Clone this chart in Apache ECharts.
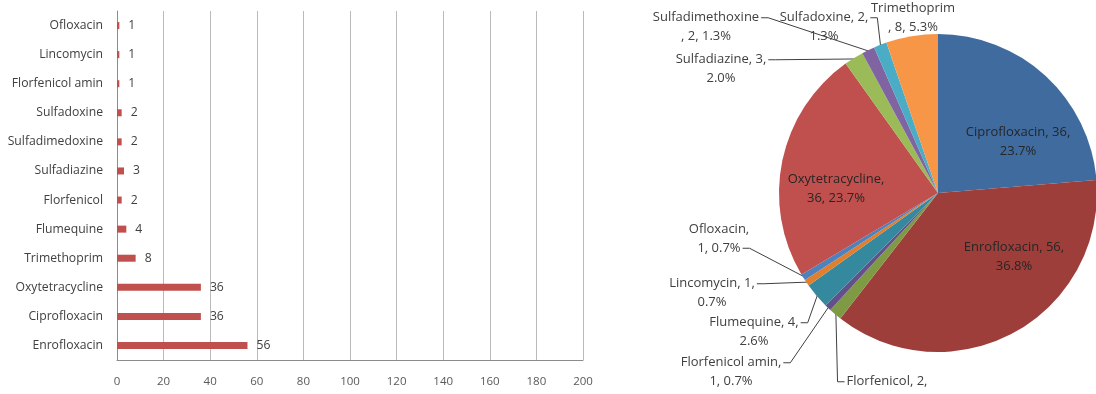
<!DOCTYPE html>
<html>
<head>
<meta charset="utf-8">
<script src="https://cdn.jsdelivr.net/npm/echarts@6/dist/echarts.min.js"></script>
<style>
  html, body { margin: 0; padding: 0; background: #ffffff; }
  #chart { width: 1096px; height: 394px; }
</style>
</head>
<body>
<div id="chart"></div>
<script>
// Bar chart: antibiotic detections, listed bottom to top
const barCategories = ['Enrofloxacin', 'Ciprofloxacin', 'Oxytetracycline', 'Trimethoprim', 'Flumequine',
  'Florfenicol', 'Sulfadiazine', 'Sulfadimedoxine', 'Sulfadoxine', 'Florfenicol amin', 'Lincomycin', 'Ofloxacin'];
const barValues = [56, 36, 36, 8, 4, 2, 3, 2, 2, 1, 1, 1];
const xTicks = [0, 20, 40, 60, 80, 100, 120, 140, 160, 180, 200];

// Pie chart: same detections, clockwise from 12 o'clock
const pieNames = ['Ciprofloxacin', 'Enrofloxacin', 'Florfenicol', 'Florfenicol amin', 'Flumequine', 'Lincomycin',
  'Ofloxacin', 'Oxytetracycline', 'Sulfadiazine', 'Sulfadimethoxine', 'Sulfadoxine', 'Trimethoprim'];
const pieValues = [36, 56, 2, 1, 4, 1, 1, 36, 3, 2, 2, 8];

// Slice fills
const pieColors = ['#3f6b9f', '#9e3e3b', '#7f9a45', '#63508a', '#35899f', '#e0802f',
  '#4f81bd', '#c0504d', '#9bbb59', '#8064a2', '#4bacc6', '#f79646'];

// Where each label wraps: 0 = after name, 1 = after "name,", 2 = after "name, value,"
const pieWrap = [2, 2, 2, 1, 2, 2, 1, 1, 2, 0, 2, 0];
// Slices whose label sits on the slice itself
const pieInside = ['Ciprofloxacin', 'Enrofloxacin', 'Oxytetracycline'];
// Label block centres (px)
const pieLabelAt = {
  'Ciprofloxacin': [1018, 142], 'Enrofloxacin': [1014, 257], 'Florfenicol': [887, 391],
  'Florfenicol amin': [731, 372], 'Flumequine': [754, 332], 'Lincomycin': [712, 293],
  'Ofloxacin': [719, 239], 'Oxytetracycline': [836, 189], 'Sulfadiazine': [721, 69],
  'Sulfadimethoxine': [706, 27], 'Sulfadoxine': [824, 27], 'Trimethoprim': [913, 18]
};
// Leader line joins the label at: side (r/l) + text line (1/2)
const pieLineFrom = {
  'Florfenicol': 'l1', 'Florfenicol amin': 'r1', 'Flumequine': 'r1', 'Lincomycin': 'r1',
  'Ofloxacin': 'r2', 'Sulfadiazine': 'r1', 'Sulfadimethoxine': 'r1', 'Sulfadoxine': 'r1'
};

const PIE_CX = 938, PIE_CY = 193, PIE_R = 159;
const FONT = 'Open Sans';
const PIE_FONT_SIZE = 13;
const PIE_LINE_H = 18.5;

const pieTotal = pieValues.reduce((a, b) => a + b, 0);

// Mid angle of each slice, radians clockwise from 12 o'clock
const pieMid = [];
(function () {
  let acc = 0;
  pieValues.forEach(v => {
    pieMid.push((acc + v / 2) / pieTotal * Math.PI * 2);
    acc += v;
  });
})();

function pieLabelLines(i) {
  const name = pieNames[i];
  const v = pieValues[i];
  const pct = (v / pieTotal * 100).toFixed(1) + '%';
  switch (pieWrap[i]) {
    case 0: return [name, ', ' + v + ', ' + pct];
    case 1: return [name + ',', v + ', ' + pct];
    default: return [name + ', ' + v + ',', pct];
  }
}

const measureCtx = document.createElement('canvas').getContext('2d');
function textWidth(s) {
  measureCtx.font = PIE_FONT_SIZE + 'px "' + FONT + '"';
  return measureCtx.measureText(s).width;
}

function leaderPoints(i) {
  const name = pieNames[i];
  const mode = pieLineFrom[name];
  if (!mode) return null;
  const at = pieLabelAt[name];
  const lines = pieLabelLines(i);
  const row = mode[1] === '1' ? 0 : 1;
  const w = textWidth(lines[row]);
  const y = at[1] + (row === 0 ? -PIE_LINE_H / 2 : PIE_LINE_H / 2);
  const dir = mode[0] === 'r' ? 1 : -1;
  const start = [at[0] + dir * (w / 2 + 2), y];
  const elbow = [start[0] + dir * 7, y];
  const a = pieMid[i];
  const anchor = [PIE_CX + (PIE_R - 1) * Math.sin(a), PIE_CY - (PIE_R - 1) * Math.cos(a)];
  return [anchor, elbow, start];
}

const chart = echarts.init(document.getElementById('chart'), null, { renderer: 'canvas' });

chart.setOption({
  animation: false,
  backgroundColor: '#ffffff',
  textStyle: { fontFamily: FONT },
  grid: { left: 117, right: 513, top: 11, bottom: 34, containLabel: false },
  xAxis: {
    type: 'value',
    min: xTicks[0],
    max: xTicks[xTicks.length - 1],
    interval: xTicks[1] - xTicks[0],
    axisLine: { show: true, lineStyle: { color: '#8c8c8c', width: 1 } },
    axisTick: { show: false },
    splitLine: { show: true, lineStyle: { color: '#bababa', width: 1 } },
    axisLabel: { color: '#595959', fontSize: 11.5, fontFamily: FONT, margin: 16 }
  },
  yAxis: {
    type: 'category',
    data: barCategories,
    axisLine: { show: true, lineStyle: { color: '#8c8c8c', width: 1 } },
    axisTick: { show: false },
    splitLine: { show: false },
    axisLabel: { color: '#404040', fontSize: 12.2, fontFamily: FONT, margin: 14 }
  },
  series: [
    {
      type: 'bar',
      data: barValues,
      barWidth: 7,
      itemStyle: { color: '#c0504d' },
      label: {
        show: true, position: 'right', distance: 9,
        color: '#404040', fontSize: 12.2, fontFamily: FONT
      }
    },
    {
      type: 'pie',
      center: [PIE_CX, PIE_CY],
      radius: PIE_R,
      startAngle: 90,
      clockwise: true,
      avoidLabelOverlap: false,
      itemStyle: { borderWidth: 0 },
      data: pieNames.map((name, i) => {
        const inside = pieInside.indexOf(name) >= 0;
        return {
          name: name,
          value: pieValues[i],
          itemStyle: { color: pieColors[i] },
          label: {
            position: inside ? 'inside' : 'outside',
            color: inside ? '#262626' : '#404040'
          },
          labelLine: { show: !!pieLineFrom[name] }
        };
      }),
      label: {
        show: true,
        formatter: p => pieLabelLines(p.dataIndex).join('\n'),
        fontSize: PIE_FONT_SIZE,
        fontFamily: FONT,
        lineHeight: PIE_LINE_H,
        align: 'center'
      },
      labelLine: {
        show: true, length: 6, length2: 8, smooth: false,
        lineStyle: { color: '#404040', width: 1 }
      },
      labelLayout: function (params) {
        const i = params.dataIndex;
        const at = pieLabelAt[pieNames[i]];
        const out = { x: at[0], y: at[1], align: 'center', verticalAlign: 'middle' };
        const pts = leaderPoints(i);
        if (pts) out.labelLinePoints = pts;
        return out;
      }
    }
  ]
});
</script>
</body>
</html>
